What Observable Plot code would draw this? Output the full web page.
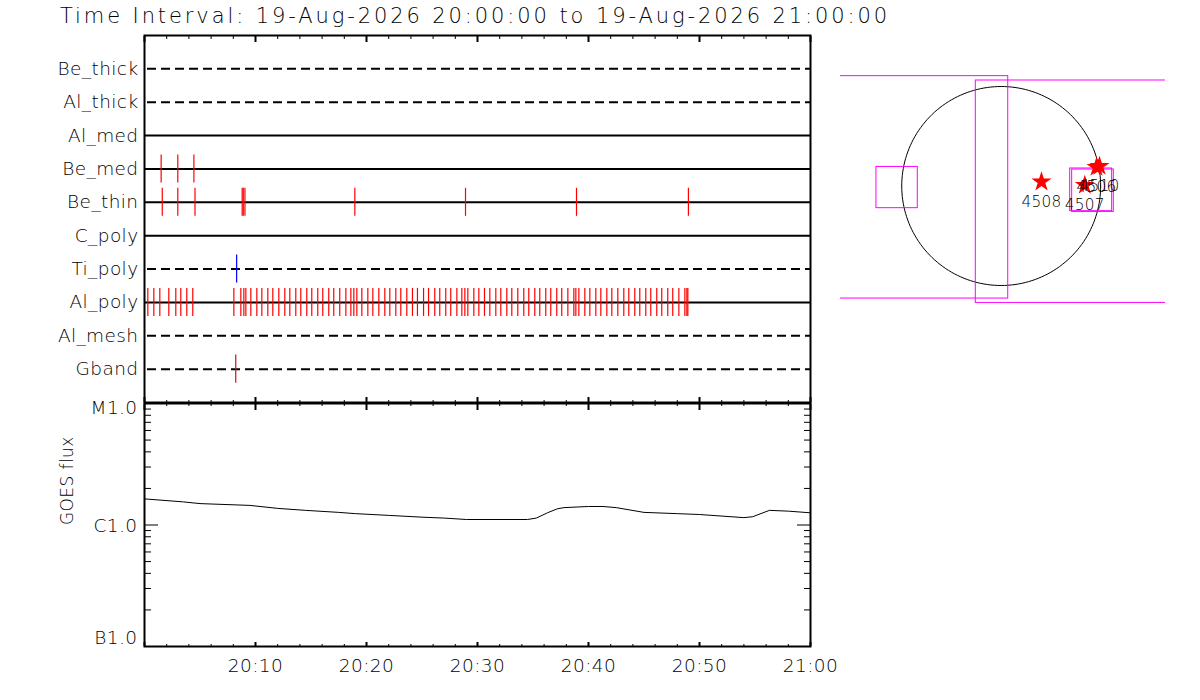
<!DOCTYPE html>
<html><head><meta charset="utf-8">
<script src="https://cdn.jsdelivr.net/npm/d3@7"></script>
<script src="https://cdn.jsdelivr.net/npm/@observablehq/plot@0.6"></script>
<style>
html,body{margin:0;padding:0;background:#fff;}
body{width:1200px;height:700px;position:relative;overflow:hidden;font-family:"DejaVu Sans",sans-serif;color:#000;}
#title{position:absolute;left:60px;top:6px;font-size:21px;line-height:21px;letter-spacing:2.9px;white-space:nowrap;z-index:5;font-weight:200;}
.panel{position:absolute;}
</style></head><body>
<div id="strips" class="panel" style="left:0;top:0"></div>
<div id="goes" class="panel" style="left:0;top:395px"></div>
<div id="sun" class="panel" style="left:840px;top:23px"></div>
<div id="title">Time Interval: 19-Aug-2026 20:00:00 to 19-Aug-2026 21:00:00</div>
<script>
// ---------- data ----------
const startUTC = Date.UTC(2026, 7, 19, 20, 0, 0);
const channels = ["Be_thick","Al_thick","Al_med","Be_med","Be_thin","C_poly","Ti_poly","Al_poly","Al_mesh","Gband"];
const dashedChannels = ["Be_thick","Al_thick","Ti_poly","Al_mesh","Gband"];

// event times, minutes after 20:00
const beMedEvents = [1.5, 3.0, 4.45];
const beThinEvents = [1.6, 3.0, 4.55, 8.8, 8.9, 9.05, 18.95, 28.92, 38.92, 49.0];
const tiPolyEvents = [8.3];
const gbandEvents = [8.22];
const alPolyEvents = [0.30,0.84,1.38,2.19,2.82,3.27,3.81,4.35,8.05,8.68,8.95,9.13,9.58,10.12,10.57,11.11,11.56,12.10,12.64,13.09,
  13.63,14.08,14.62,15.07,15.61,16.06,16.60,17.05,17.59,18.14,18.59,18.86,19.13,19.58,20.12,20.57,21.11,21.65,22.10,22.64,
  23.09,23.63,24.14,24.59,25.14,25.59,26.15,26.60,27.14,27.59,28.14,28.59,28.86,29.13,29.67,30.12,30.63,31.11,31.65,32.10,
  32.64,33.09,33.63,34.17,34.62,35.16,35.61,36.15,36.60,37.14,37.59,38.14,38.68,38.86,39.13,39.67,40.12,40.66,41.11,41.65,
  42.10,42.64,43.18,43.63,44.17,44.62,45.16,45.61,46.15,46.60,47.14,47.59,48.14,48.68,48.86,48.95];

// GOES flux (W/m^2)
const goesMinutes = [0, 3.5, 5, 9.5, 12, 14.5, 17.5, 19, 22, 25, 27, 29, 34.5, 35.3, 36.3, 37.2, 37.8, 40, 41.3, 42.5, 45, 48, 50, 54, 54.8, 56.3, 58, 60];
const goesFlux = [1.64e-6,1.55e-6,1.50e-6,1.45e-6,1.37e-6,1.32e-6,1.27e-6,1.24e-6,1.20e-6,1.16e-6,1.14e-6,1.11e-6,1.11e-6,1.14e-6,
  1.26e-6,1.36e-6,1.39e-6,1.42e-6,1.42e-6,1.39e-6,1.27e-6,1.24e-6,1.22e-6,1.15e-6,1.17e-6,1.32e-6,1.30e-6,1.26e-6];

// axis ticks
const majorMinutes = [0, 10, 20, 30, 40, 50, 60];
const minorMinutes = [2,4,6,8,12,14,16,18,22,24,26,28,32,34,36,38,42,44,46,48,52,54,56,58];
const xLabelMinutes = [10, 20, 30, 40, 50, 60];
const xLabels = ["20:10", "20:20", "20:30", "20:40", "20:50", "21:00"];
const goesMajor = [1e-7, 1e-6, 1e-5];
const goesClassLabels = ["B1.0", "C1.0", "M1.0"];
const goesMinor = [2e-7,3e-7,4e-7,5e-7,6e-7,7e-7,8e-7,9e-7,2e-6,3e-6,4e-6,5e-6,6e-6,7e-6,8e-6,9e-6];

// solar map (arcsec)
const solarRadius = 960;
const fovX1 = [-1700, -245, -1204, 666, 685];
const fovX2 = [68, 1800, -805, 1071, 1087];
const fovY1 = [-1086, -1128, -214, -243, -250];
const fovY2 = [1060, 1018, 184, 169, 159];
const regionNames = ["4508", "4507", "4506", "4510"];
const regionX = [389, 807, 920, 949];
const regionY = [40, 8, 181, 191];

// ---------- build ----------
const tm = m => new Date(startUTC + m * 60000);
const rowOf = name => channels.indexOf(name) + 1;
const font = {fontFamily: "'DejaVu Sans', sans-serif", fontSize: "18.5px", fontWeight: 200, letterSpacing: "0.4px", color: "black", background: "transparent", overflow: "visible"};

const events = [
  ...beMedEvents.map(m => ({t: tm(m), row: rowOf("Be_med"), c: "#ff0000"})),
  ...beThinEvents.map(m => ({t: tm(m), row: rowOf("Be_thin"), c: "#ff0000"})),
  ...tiPolyEvents.map(m => ({t: tm(m), row: rowOf("Ti_poly"), c: "#0000ff"})),
  ...alPolyEvents.map(m => ({t: tm(m), row: rowOf("Al_poly"), c: "#ff0000"})),
  ...gbandEvents.map(m => ({t: tm(m), row: rowOf("Gband"), c: "#c0141e"}))
];
const xDomain = [tm(0), tm(60)];
const blank = () => "";

const strips = Plot.plot({
  width: 820, height: 410,
  marginLeft: 144, marginRight: 10, marginTop: 35, marginBottom: 8,
  style: font,
  x: {type: "utc", domain: xDomain},
  y: {domain: [11, 0]},
  marks: [
    Plot.ruleY(channels.filter(c => !dashedChannels.includes(c)), {y: c => rowOf(c), stroke: "black", strokeWidth: 2}),
    Plot.ruleY(dashedChannels, {y: c => rowOf(c), stroke: "black", strokeWidth: 2, strokeDasharray: "9,5", insetLeft: 3}),
    Plot.ruleX(events, {x: "t", y1: d => d.row - 0.42, y2: d => d.row + 0.42, stroke: "c", strokeWidth: 1.2}),
    Plot.axisY({ticks: channels.map(rowOf), tickSize: 0, tickPadding: 6, tickFormat: i => channels[i - 1], label: null}),
    Plot.axisX({anchor: "top", ticks: minorMinutes.map(tm), tickSize: -3, tickFormat: blank, label: null}),
    Plot.axisX({anchor: "top", ticks: majorMinutes.map(tm), tickSize: -6, strokeWidth: 2, tickFormat: blank, label: null}),
    Plot.axisX({anchor: "bottom", ticks: minorMinutes.map(tm), tickSize: -2, tickFormat: blank, label: null}),
    Plot.axisX({anchor: "bottom", ticks: majorMinutes.map(tm), tickSize: -5, strokeWidth: 2, tickFormat: blank, label: null}),
    Plot.frame({stroke: "black", strokeWidth: 2})
  ]
});
document.getElementById("strips").append(strips);

const goesData = goesMinutes.map((m, i) => ({t: tm(m), flux: goesFlux[i]}));
const labelOfTime = new Map(xLabelMinutes.map((m, i) => [+tm(m), xLabels[i]]));
const classAxis = (i, dy) => Plot.axisY({anchor: "left", ticks: [goesMajor[i]], tickSize: 0, tickPadding: 7, dy, tickFormat: () => goesClassLabels[i], label: null});

const goes = Plot.plot({
  width: 820, height: 300,
  marginLeft: 144, marginRight: 10, marginTop: 8, marginBottom: 49,
  style: font,
  x: {type: "utc", domain: xDomain},
  y: {type: "log", domain: [1e-7, 1e-5]},
  marks: [
    Plot.line(goesData, {x: "t", y: "flux", stroke: "black", strokeWidth: 1}),
    classAxis(0, -8),
    classAxis(1, 1),
    classAxis(2, 5),
    Plot.axisY({anchor: "left", ticks: goesMajor, tickSize: -14, tickFormat: blank, label: null}),
    Plot.axisY({anchor: "left", ticks: goesMinor, tickSize: -7, tickFormat: blank, label: null}),
    Plot.axisY({anchor: "right", ticks: goesMajor, tickSize: -14, tickFormat: blank, label: null}),
    Plot.axisY({anchor: "right", ticks: goesMinor, tickSize: -7, tickFormat: blank, label: null}),
    Plot.axisX({anchor: "bottom", ticks: xLabelMinutes.map(tm), tickSize: 0, tickPadding: 12, tickFormat: d => labelOfTime.get(+d), label: null}),
    Plot.axisX({anchor: "bottom", ticks: minorMinutes.map(tm), tickSize: -2, tickFormat: blank, label: null}),
    Plot.axisX({anchor: "bottom", ticks: majorMinutes.map(tm), tickSize: -4, strokeWidth: 2, tickFormat: blank, label: null}),
    Plot.axisX({anchor: "top", ticks: minorMinutes.map(tm), tickSize: -2, tickFormat: blank, label: null}),
    Plot.axisX({anchor: "top", ticks: majorMinutes.map(tm), tickSize: -6, strokeWidth: 2, tickFormat: blank, label: null}),
    Plot.text(["GOES flux"], {frameAnchor: "left", rotate: -90, dx: -77, fontSize: 17}),
    Plot.frame({stroke: "black", strokeWidth: 2})
  ]
});
document.getElementById("goes").append(goes);

const limb = d3.range(0, 361, 2).map(a => ({x: solarRadius * Math.cos(a * Math.PI / 180), y: solarRadius * Math.sin(a * Math.PI / 180)}));
const fovs = fovX1.map((x1, i) => ({x1, x2: fovX2[i], y1: fovY1[i], y2: fovY2[i]}));
const regions = regionNames.map((n, i) => ({name: n, x: regionX[i], y: regionY[i]}));

const sun = Plot.plot({
  width: 325, height: 325, margin: 0,
  style: {...font, fontSize: "15.3px", letterSpacing: "0.3px"},
  x: {domain: [-1551, 1586], axis: null},
  y: {domain: [-1568, 1568], axis: null},
  marks: [
    Plot.line(limb, {x: "x", y: "y", stroke: "black", strokeWidth: 1}),
    Plot.rect(fovs, {x1: "x1", x2: "x2", y1: "y1", y2: "y2", stroke: "#ff00ff", fill: "none", strokeWidth: 1, clip: true}),
    Plot.dot(regions, {x: "x", y: "y", symbol: "star", fill: "#ff0000", r: 6.3}),
    Plot.text(regions, {x: "x", y: "y", text: "name", dy: 20, fontSize: 15.3})
  ]
});
document.getElementById("sun").append(sun);
</script>
</body></html>
